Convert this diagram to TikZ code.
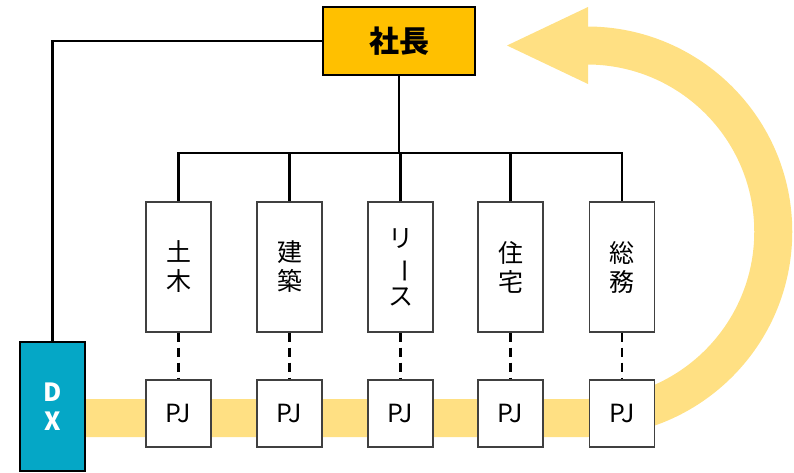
\documentclass[tikz,border=0pt]{standalone}
\usepackage{fontspec}
\setmainfont{Noto Sans CJK JP}
\definecolor{ceocol}{HTML}{FFC000}
\definecolor{dxcol}{HTML}{05A7C6}
\definecolor{bandcol}{HTML}{FFE083}
\definecolor{boxline}{HTML}{404040}
\tikzset{
  conn/.style={line width=2.2pt, black},
  dashconn/.style={line width=2.4pt, black, dash pattern=on 9pt off 6pt},
  dept/.style={draw=boxline, line width=1.4pt, fill=white, minimum width=65pt, minimum height=130pt, inner sep=0pt, align=center, font=\fontsize{25}{29}\selectfont},
  pj/.style={draw=boxline, line width=1.4pt, fill=white, minimum width=65pt, minimum height=67pt, inner sep=0pt, font=\fontsize{25}{28}\selectfont},
  band/.style={line width=38pt, bandcol},
}
\begin{document}
\begin{tikzpicture}[x=1pt,y=-1pt]
\useasboundingbox (0,0) rectangle (794,472);
% yellow band and arrow
\coordinate (bandstart) at (85,418);
\coordinate (bandturn) at (587,418);
\coordinate (tip) at (507,45.5);
\draw[band] (bandstart) -- (bandturn) arc[start angle=90, end angle=-90, radius=186.25];
\fill[bandcol] (588,7) -- (tip) -- (588,84) -- cycle;
% CEO
\node[draw=black, line width=1.4pt, fill=ceocol, minimum width=152pt, minimum height=68pt, inner sep=0pt, font=\fontsize{30}{32}\selectfont\bfseries] (ceo) at (399,41) {社長};
% departments
\node[dept] (d1) at (178.5,267) {土\\木};
\node[dept] (d2) at (289.5,267) {建\\築};
\node[dept] (d3) at (400.5,267) {リ\\\rotatebox[origin=c]{-90}{ー}\\ス};
\node[dept] (d4) at (510.5,267) {住\\宅};
\node[dept] (d5) at (622,267) {総\\務};
% PJ boxes
\node[pj] (p1) at (178.5,413.5) {PJ};
\node[pj] (p2) at (289.5,413.5) {PJ};
\node[pj] (p3) at (400.5,413.5) {PJ};
\node[pj] (p4) at (510.5,413.5) {PJ};
\node[pj] (p5) at (622,413.5) {PJ};
% DX
\node[draw=black, line width=1.4pt, fill=dxcol, minimum width=65pt, minimum height=129pt, inner sep=0pt, align=center, text=white, font=\fontsize{25}{29}\selectfont\bfseries] (dx) at (52.5,406.5) {D\\X};
% connectors
\coordinate (bus) at (0,153);
\draw[conn] (ceo.south) -- (ceo.south |- bus);
\draw[conn] (d1.north) |- (d5.north |- bus) -- (d5.north);
\foreach \i in {2,3,4} \draw[conn] (d\i.north) -- (d\i.north |- bus);
\draw[conn] (dx.north) |- (ceo.west);
\foreach \i in {1,...,5} \draw[dashconn] (d\i.south) -- (p\i.north);
\end{tikzpicture}
\end{document}
